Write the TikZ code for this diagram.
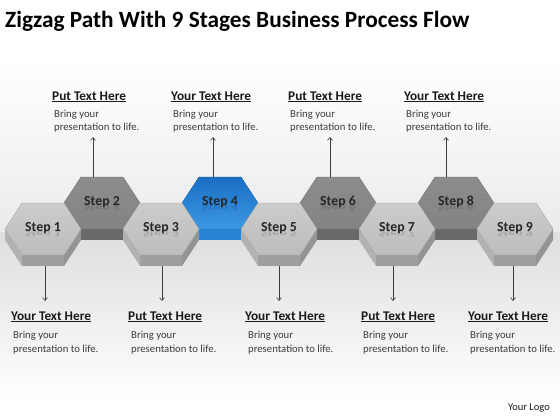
\documentclass[tikz,border=0pt]{standalone}
\usepackage{fontspec}
\setmainfont{Carlito}
\usetikzlibrary{arrows.meta}
\definecolor{txtdark}{HTML}{1A1A1A}
\definecolor{txtbody}{HTML}{3C3C3C}
\definecolor{linec}{HTML}{3A3A3A}
\tikzset{
  odd face/.style={top color=gray!40!white, bottom color=gray!52!white, draw=gray!68!white, line width=0.4pt},
  odd left/.style={fill=gray!60!white},
  odd bottom/.style={fill=gray!76!white},
  odd right/.style={fill=gray!84!white},
  even face/.style={top color=gray!90!white, bottom color=gray!97!white, draw=gray!90!black, line width=0.4pt},
  even left/.style={fill=gray!92!black},
  even bottom/.style={fill=gray!82!black},
  even right/.style={fill=gray!76!black},
  blue face/.style={top color={rgb,255:red,26;green,110;blue,194}, bottom color={rgb,255:red,60;green,152;blue,228}, draw={rgb,255:red,20;green,90;blue,170}, line width=0.4pt},
  blue left/.style={fill={rgb,255:red,72;green,152;blue,222}},
  blue bottom/.style={fill={rgb,255:red,42;green,132;blue,214}},
  blue right/.style={fill={rgb,255:red,32;green,112;blue,194}},
  steplabel/.style={font=\bfseries\fontsize{13.8}{15}\selectfont, text={rgb,255:red,38;green,38;blue,38}, inner sep=0pt, anchor=base},
  steprefl/.style={steplabel, yscale=-0.6, opacity=0.18},
  headtext/.style={font=\bfseries\fontsize{13.3}{15}\selectfont, text=txtdark, inner sep=0pt, anchor=base west},
  bodytext/.style={font=\fontsize{10.7}{13.8}\selectfont, text=txtbody, inner sep=0pt, anchor=base west, align=left},
  arr/.style={draw=linec, line width=0.6pt, -{Straight Barb[length=3pt,width=5pt,line width=0.6pt]}},
}
\newcommand\myhex[5]{%
  \pgfmathsetmacro\hxl{#1-38}\pgfmathsetmacro\hxr{#1+38}%
  \pgfmathsetmacro\hbl{#1-21}\pgfmathsetmacro\hbr{#1+21}%
  \pgfmathsetmacro\hyt{#2-26}\pgfmathsetmacro\hyb{#2+26}%
  \pgfmathsetmacro\hyd{#2+11}\pgfmathsetmacro\hybd{#2+37}%
  \pgfmathsetmacro\hyl{#2+2}%
  \fill[#3 left] (\hxl,#2) -- (\hbl,\hyb) -- (\hbl,\hybd) -- (\hxl,\hyd) -- cycle;
  \fill[#3 bottom] (\hbl,\hyb) -- (\hbr,\hyb) -- (\hbr,\hybd) -- (\hbl,\hybd) -- cycle;
  \fill[#3 right] (\hbr,\hyb) -- (\hxr,#2) -- (\hxr,\hyd) -- (\hbr,\hybd) -- cycle;
  \path[#3 face] (\hxl,#2) -- (\hbl,\hyt) -- (\hbr,\hyt) -- (\hxr,#2) -- (\hbr,\hyb) -- (\hbl,\hyb) -- cycle;
  \node[steplabel] (#4) at (#1,\hyl) {#5};
  \node[steprefl] (#4r) at (#1,\hyl) {#5};
}
\begin{document}
\begin{tikzpicture}[x=1pt,y=-1pt]
\useasboundingbox (0,0) rectangle (560,420);
% background
\fill[white] (0,0) rectangle (560,420);
\shade[top color=white, bottom color=black!8] (0,60) rectangle (560,232);
\shade[top color=black!13, bottom color=white] (0,232) rectangle (560,400);
% title
\node[font=\bfseries\fontsize{23.3}{26}\selectfont, inner sep=0pt, anchor=base west] (title) at (5,27.5) {Zigzag Path With 9 Stages Business Process Flow};
% hexagons: even first
\myhex{102}{203}{even}{s2}{Step 2}
\myhex{220}{203}{blue}{s4}{Step 4}
\myhex{338}{203}{even}{s6}{Step 6}
\myhex{456}{203}{even}{s8}{Step 8}
\myhex{43}{229}{odd}{s1}{Step 1}
\myhex{161}{229}{odd}{s3}{Step 3}
\myhex{279}{229}{odd}{s5}{Step 5}
\myhex{397}{229}{odd}{s7}{Step 7}
\myhex{515}{229}{odd}{s9}{Step 9}
% top texts
\node[headtext] (h2) at (52,100) {\underline{Put Text Here}};
\node[headtext] (h4) at (171,100) {\underline{Your Text Here}};
\node[headtext] (h6) at (288,100) {\underline{Put Text Here}};
\node[headtext] (h8) at (404,100) {\underline{Your Text Here}};
\node[bodytext] (b2) at (54,131) {Bring your\\presentation to life.};
\node[bodytext] (b4) at (173,131) {Bring your\\presentation to life.};
\node[bodytext] (b6) at (290,131) {Bring your\\presentation to life.};
\node[bodytext] (b8) at (406,131) {Bring your\\presentation to life.};
% bottom texts
\node[headtext] (h1) at (11,320) {\underline{Your Text Here}};
\node[headtext] (h3) at (128,320) {\underline{Put Text Here}};
\node[headtext] (h5) at (245,320) {\underline{Your Text Here}};
\node[headtext] (h7) at (361,320) {\underline{Put Text Here}};
\node[headtext] (h9) at (468,320) {\underline{Your Text Here}};
\node[bodytext] (b1) at (13,352.3) {Bring your\\presentation to life.};
\node[bodytext] (b3) at (131,352.3) {Bring your\\presentation to life.};
\node[bodytext] (b5) at (248,352.3) {Bring your\\presentation to life.};
\node[bodytext] (b7) at (363,352.3) {Bring your\\presentation to life.};
\node[bodytext] (b9) at (470,352.3) {Bring your\\presentation to life.};
% arrow endpoints
\coordinate (u2) at (93,177);  \coordinate (t2) at (93,137);
\coordinate (u4) at (213,177); \coordinate (t4) at (213,137);
\coordinate (u6) at (330,177); \coordinate (t6) at (330,137);
\coordinate (u8) at (446,177); \coordinate (t8) at (446,137);
\coordinate (d1) at (45,266);  \coordinate (e1) at (45,301);
\coordinate (d3) at (162,266); \coordinate (e3) at (162,301);
\coordinate (d5) at (279,266); \coordinate (e5) at (279,301);
\coordinate (d7) at (393,266); \coordinate (e7) at (393,301);
\coordinate (d9) at (513,266); \coordinate (e9) at (513,301);
\foreach \a/\b in {u2/t2,u4/t4,u6/t6,u8/t8,d1/e1,d3/e3,d5/e5,d7/e7,d9/e9}
  \draw[arr] (\a) -- (\b);
% logo
\node[font=\fontsize{10.5}{12}\selectfont, text=txtdark, inner sep=0pt, anchor=base east] (logo) at (550,410.7) {Your Logo};
\end{tikzpicture}
\end{document}
